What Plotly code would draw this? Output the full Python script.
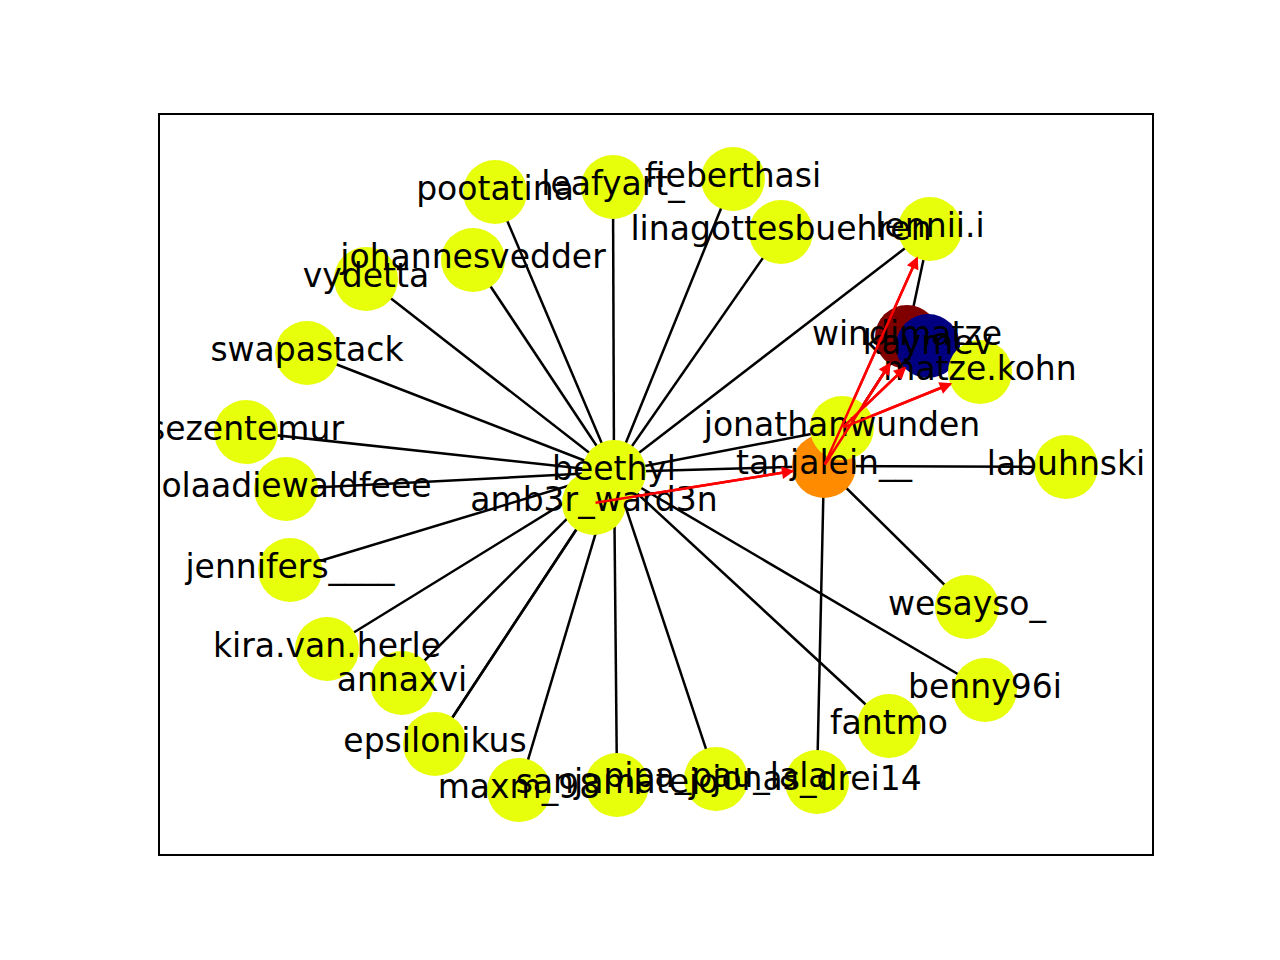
import plotly.graph_objects as go

# node names and positions (screen-like coords)
names = ["beethyl", "amb3r_ward3n", "tanjalein__", "jonathanwunden", "windimatze", "kaymev",
         "matze.kohn", "lennii.i", "labuhnski", "wesayso_", "benny96i", "fantmo",
         "jonas_drei14", "pipa_pau_lala", "sanjamatejo", "maxm_98", "epsilonikus", "annaxvi",
         "kira.van.herle", "jennifers____", "nolaadiewaldfeee", "sezentemur", "swapastack",
         "vydetta", "johannesvedder", "pootatina", "leafyart_", "fieberthasi", "linagottesbuehren"]
xs = [614, 594, 824, 842, 907, 928, 980, 930, 1066, 967, 985, 889, 817, 716, 617, 519, 435, 402,
      327, 290, 286, 246, 307, 366, 473, 495, 613, 733, 781]
ys = [472, 503, 466, 428, 337, 346, 372, 229, 467, 607, 690, 726, 782, 779, 785, 790, 744, 683,
      649, 570, 489, 432, 353, 279, 260, 192, 187, 179, 232]
node_colors = ["#e8ff0c"] * len(names)
node_colors[2] = "#ff8c00"
node_colors[4] = "#800000"
node_colors[5] = "#000080"

periphery = ["lennii.i", "fantmo", "benny96i", "pipa_pau_lala", "sanjamatejo", "maxm_98",
             "epsilonikus", "annaxvi", "kira.van.herle", "jennifers____", "nolaadiewaldfeee",
             "sezentemur", "swapastack", "vydetta", "johannesvedder", "pootatina", "leafyart_",
             "fieberthasi", "linagottesbuehren"]
black_edges = [("beethyl", p) for p in periphery] + [
    ("beethyl", "jonathanwunden"), ("beethyl", "tanjalein__"), ("tanjalein__", "labuhnski"),
    ("tanjalein__", "wesayso_"), ("tanjalein__", "jonas_drei14"), ("lennii.i", "windimatze"),
    ("tanjalein__", "windimatze"), ("amb3r_ward3n", "epsilonikus")]
red_edges = [("amb3r_ward3n", "tanjalein__"), ("tanjalein__", "lennii.i"),
             ("tanjalein__", "windimatze"), ("jonathanwunden", "kaymev"),
             ("jonathanwunden", "matze.kohn")]

pos = {n: (x, y) for n, x, y in zip(names, xs, ys)}

ex, ey = [], []
for a, b in black_edges:
    ex += [pos[a][0], pos[b][0], None]
    ey += [pos[a][1], pos[b][1], None]
rx, ry = [], []
for a, b in red_edges:
    rx += [pos[a][0], pos[b][0], None]
    ry += [pos[a][1], pos[b][1], None]

fig = go.Figure()
fig.add_trace(go.Scatter(x=ex, y=ey, mode="lines", line=dict(color="black", width=2.5),
                         hoverinfo="skip"))
fig.add_trace(go.Scatter(x=rx, y=ry, mode="lines", line=dict(color="red", width=2.5),
                         hoverinfo="skip"))
fig.add_trace(go.Scatter(x=xs, y=ys, mode="markers+text", text=names, textposition="middle center",
                         marker=dict(size=64, color=node_colors, line=dict(width=0)),
                         textfont=dict(family="DejaVu Sans", size=33, color="black")))

for a, b in red_edges:
    fig.add_annotation(x=pos[b][0], y=pos[b][1], ax=pos[a][0], ay=pos[a][1],
                       xref="x", yref="y", axref="x", ayref="y", text="",
                       showarrow=True, arrowhead=2, arrowsize=1, arrowwidth=2.5,
                       arrowcolor="red", standoff=30)

fig.update_xaxes(range=[160, 1152], showgrid=False, zeroline=False, showticklabels=False,
                 showline=True, linecolor="black", linewidth=1.5, mirror=True, ticks="")
fig.update_yaxes(range=[854, 115], showgrid=False, zeroline=False, showticklabels=False,
                 showline=True, linecolor="black", linewidth=1.5, mirror=True, ticks="")
fig.update_layout(width=1280, height=960, showlegend=False, plot_bgcolor="white",
                  paper_bgcolor="white", margin=dict(l=152, r=136, t=107, b=114))
fig.write_html("out.html")
